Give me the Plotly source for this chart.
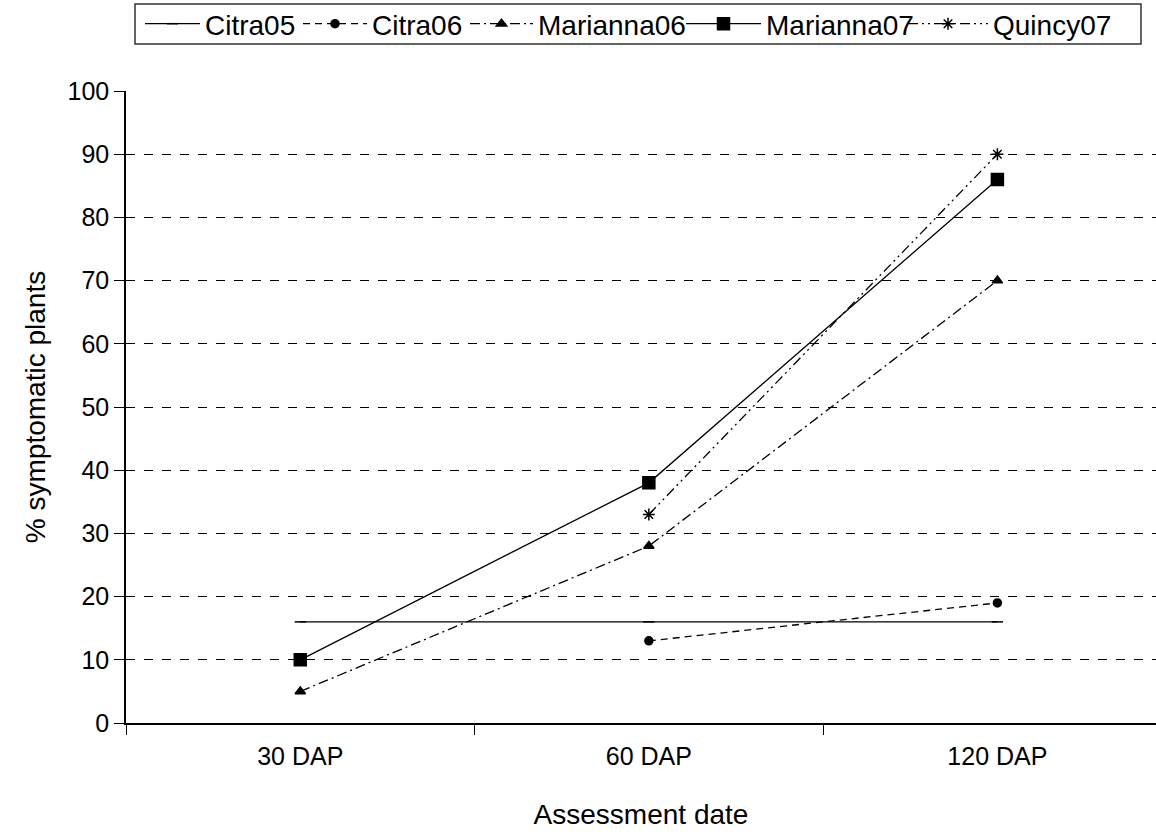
import plotly.graph_objects as go

categories = ["30 DAP", "60 DAP", "120 DAP"]
citra05 = [16, 16, 16]
citra06 = [None, 13, 19]
marianna06 = [5, 28, 70]
marianna07 = [10, 38, 86]
quincy07 = [None, 33, 90]
y_ticks = list(range(0, 101, 10))

series = [
    ("Citra05", citra05, "solid", "line-ew", 8),
    ("Citra06", citra06, "7px,5px", "circle", 8),
    ("Marianna06", marianna06, "10px,4px,2px,4px", "triangle-up", 9),
    ("Marianna07", marianna07, "solid", "square", 12),
    ("Quincy07", quincy07, "10px,4px,2px,4px,2px,4px", "asterisk", 10),
]
# legend sample start positions and text start positions (container px)
legend_px = [145, 303, 470, 686, 908]
legend_text_px = [205, 372, 538, 766, 993]

W, H = 1156, 835
fig = go.Figure()
legends = {}
for i, (name, vals, dash, sym, size) in enumerate(series):
    lname = "legend" if i == 0 else f"legend{i+1}"
    fig.add_trace(go.Scatter(
        x=categories, y=vals, name=name, mode="lines+markers",
        line=dict(color="black", width=1.3, dash=dash),
        marker=dict(symbol=sym, size=size, color="black",
                    line=dict(color="black", width=1.5)),
        connectgaps=False, legend=lname,
    ))
    iw = max(30, legend_text_px[i] - legend_px[i] - 5)
    legends[lname] = dict(
        xref="container", yref="container",
        x=(legend_px[i] - 5) / W, xanchor="left",
        y=1 - 24 / H, yanchor="middle",
        orientation="h", bgcolor="rgba(0,0,0,0)", borderwidth=0,
        font=dict(size=28), itemwidth=iw,
    )

# legend frame
fig.add_shape(type="rect", xref="paper", yref="paper",
              x0=(135 - 126) / 1030, x1=(1141 - 126) / 1030,
              y0=(723 - 44) / 632, y1=(723 - 4) / 632,
              line=dict(color="#333333", width=1.5), fillcolor="rgba(0,0,0,0)",
              layer="below")

fig.update_layout(
    width=W, height=H,
    margin=dict(l=126, r=0, t=91, b=112),
    paper_bgcolor="white", plot_bgcolor="white",
    font=dict(family="Liberation Sans, Arial, sans-serif", size=25, color="black"),
    showlegend=True,
    **legends,
    xaxis=dict(
        type="category", range=[-0.5, 2.455], tickson="boundaries",
        ticks="outside", ticklen=10, tickcolor="black", ticklabelstandoff=10,
        showline=True, linecolor="black", linewidth=1.5,
        showgrid=False, zeroline=False,
        title=dict(text="Assessment date", font=dict(size=28), standoff=36),
        tickfont=dict(size=25),
    ),
    yaxis=dict(
        range=[0, 100], tickvals=y_ticks, ticks="outside", ticklen=10,
        tickcolor="black", showline=True, linecolor="black", linewidth=1.5,
        showgrid=True, gridcolor="black", griddash="dash", gridwidth=1,
        zeroline=False,
        title=dict(text="% symptomatic plants", font=dict(size=28), standoff=14),
        tickfont=dict(size=25),
    ),
)

fig.write_html("out.html")
